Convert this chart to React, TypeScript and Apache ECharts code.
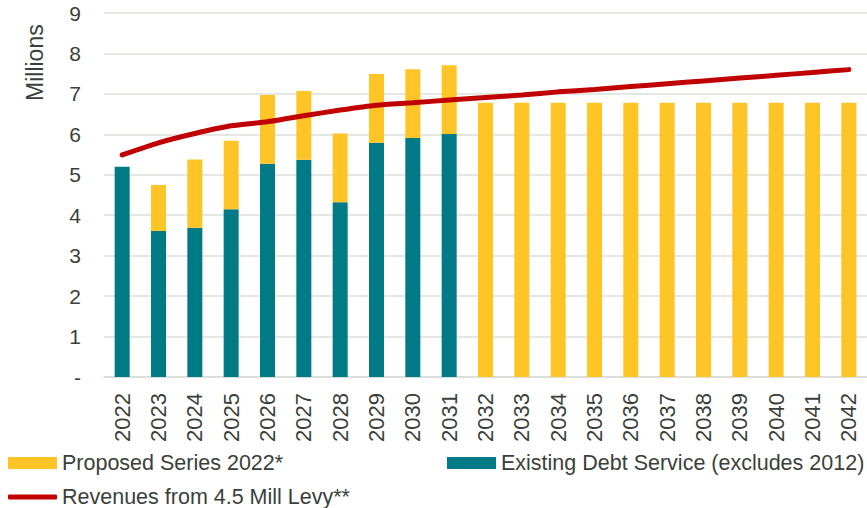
import React, { useEffect, useRef } from "react";
import * as echarts from "echarts";

const years = ["2022","2023","2024","2025","2026","2027","2028","2029","2030","2031","2032","2033","2034","2035","2036","2037","2038","2039","2040","2041","2042"];
const existingDebt = [5.20, 3.61, 3.69, 4.15, 5.27, 5.37, 4.32, 5.79, 5.91, 6.01, 0, 0, 0, 0, 0, 0, 0, 0, 0, 0, 0];
const proposedSeries = [0, 1.14, 1.69, 1.69, 1.70, 1.70, 1.70, 1.70, 1.70, 1.70, 6.78, 6.78, 6.78, 6.78, 6.78, 6.78, 6.78, 6.78, 6.78, 6.78, 6.78];
const revenues = [5.49, 5.79, 6.02, 6.21, 6.31, 6.46, 6.60, 6.72, 6.78, 6.85, 6.91, 6.97, 7.05, 7.11, 7.18, 7.25, 7.32, 7.39, 7.46, 7.53, 7.60];
const yTicks = ["-", "1", "2", "3", "4", "5", "6", "7", "8", "9"];

const FONT = "'Liberation Sans', Arial, sans-serif";
const TXT = "#3b3f3a";
const YELLOW = "#FFC425";
const TEAL = "#007A84";
const RED = "#C00000";

export default function App() {
  const ref = useRef<HTMLDivElement>(null);
  useEffect(() => {
    const chart = echarts.init(ref.current!, null, { renderer: "svg" });
    const legendText = { color: TXT, fontSize: 21.5, fontFamily: FONT, lineHeight: 24 };
    chart.setOption({
      animation: false,
      grid: { left: 104, right: 0, top: 13, bottom: 131, containLabel: false },
      xAxis: {
        type: "category",
        data: years,
        axisLine: { show: true, lineStyle: { color: "#D9DCD6", width: 1.5 } },
        axisTick: { show: false },
        axisLabel: { rotate: 90, margin: 16, color: TXT, fontSize: 22, fontFamily: FONT, interval: 0 },
      },
      yAxis: {
        type: "value",
        min: 0,
        max: 9,
        interval: 1,
        axisLine: { show: false },
        axisTick: { show: false },
        splitLine: { lineStyle: { color: "#DCDFD9", width: 1.5 } },
        axisLabel: {
          margin: 23,
          color: TXT,
          fontSize: 21,
          fontFamily: FONT,
          formatter: (v: number) => yTicks[Math.round(v)] ?? String(v),
        },
      },
      legend: [
        {
          left: 8, top: 451, padding: 0, itemWidth: 49, itemHeight: 12, itemGap: 0,
          textStyle: legendText, selectedMode: false,
          data: [{ name: "Proposed Series 2022*", icon: "rect" }],
        },
        {
          left: 447, top: 451, padding: 0, itemWidth: 49, itemHeight: 12, itemGap: 0,
          textStyle: legendText, selectedMode: false,
          data: [{ name: "Existing Debt Service (excludes 2012)", icon: "rect" }],
        },
        {
          left: 8, top: 485, padding: 0, itemWidth: 49, itemHeight: 5, itemGap: 0,
          textStyle: legendText, selectedMode: false,
          data: [{ name: "Revenues from 4.5 Mill Levy**", icon: "roundRect", itemStyle: { color: RED } }],
        },
      ],
      graphic: [
        {
          type: "text",
          x: 23,
          y: 101,
          rotation: Math.PI / 2,
          style: { text: "Millions", fill: TXT, font: `23px ${FONT}` },
        },
      ],
      series: [
        {
          name: "Existing Debt Service (excludes 2012)",
          type: "bar",
          stack: "debt",
          barWidth: 15,
          data: existingDebt,
          itemStyle: { color: TEAL },
        },
        {
          name: "Proposed Series 2022*",
          type: "bar",
          stack: "debt",
          barWidth: 15,
          data: proposedSeries,
          itemStyle: { color: YELLOW },
        },
        {
          name: "Revenues from 4.5 Mill Levy**",
          type: "line",
          data: revenues,
          smooth: 0.2,
          showSymbol: false,
          symbol: "none",
          lineStyle: { color: RED, width: 5, cap: "round" },
          itemStyle: { color: RED },
        },
      ],
    });
    return () => chart.dispose();
  }, []);
  return (
    <div
      ref={ref}
      style={{ position: "absolute", left: 0, top: 0, width: 867, height: 508 }}
    />
  );
}
